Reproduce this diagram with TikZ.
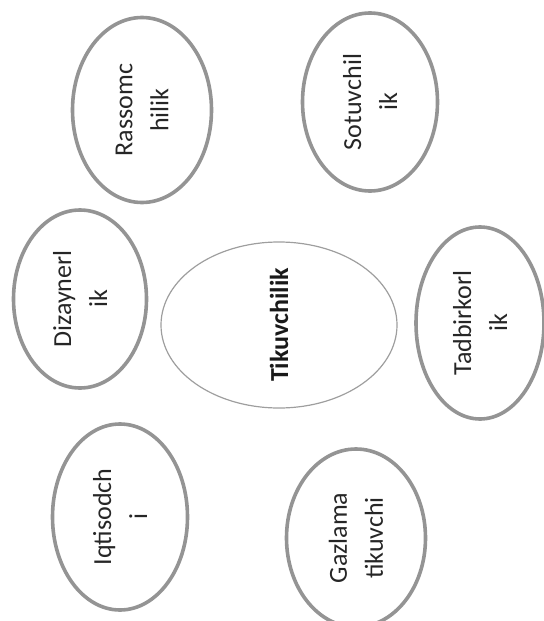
\documentclass[tikz,border=0pt]{standalone}
\usepackage{fontspec}
\setmainfont{Carlito}
\usepackage{tikz}
\usetikzlibrary{shapes.geometric}

\tikzset{
  bubble/.style={ellipse,draw=black!42,line width=1.8pt,rotate=90,align=center,inner sep=0pt,
    text=black!85,font=\fontsize{13}{18}\selectfont},
  core/.style={ellipse,draw=black!38,line width=0.6pt,rotate=90,align=center,inner sep=0pt,
    text=black!90,font=\bfseries\fontsize{13}{18}\selectfont}
}

\begin{document}
\begin{tikzpicture}[x=0.5pt,y=-0.5pt]
  \useasboundingbox (0,0) rectangle (544,621);
  \node[core,minimum width=83pt,minimum height=118pt] (tikuv) at (279,325) {Tikuvchilik};
  \node[bubble,minimum width=92.5pt,minimum height=69.5pt] (rassom) at (142,110) {Rassomc\\hilik};
  \node[bubble,minimum width=89pt,minimum height=67.5pt] (sotuv) at (370,102) {Sotuvchil\\ik};
  \node[bubble,minimum width=89pt,minimum height=66.5pt] (dizayn) at (80,299) {Dizaynerl\\ik};
  \node[bubble,minimum width=96pt,minimum height=64pt] (tadbir) at (480,323) {Tadbirkorl\\ik};
  \node[bubble,minimum width=93pt,minimum height=67.5pt] (iqtis) at (120,517) {Iqtisodch\\i};
  \node[bubble,minimum width=89pt,minimum height=69.5pt] (gazlama) at (356,538) {Gazlama\\tikuvchi};
\end{tikzpicture}
\end{document}
